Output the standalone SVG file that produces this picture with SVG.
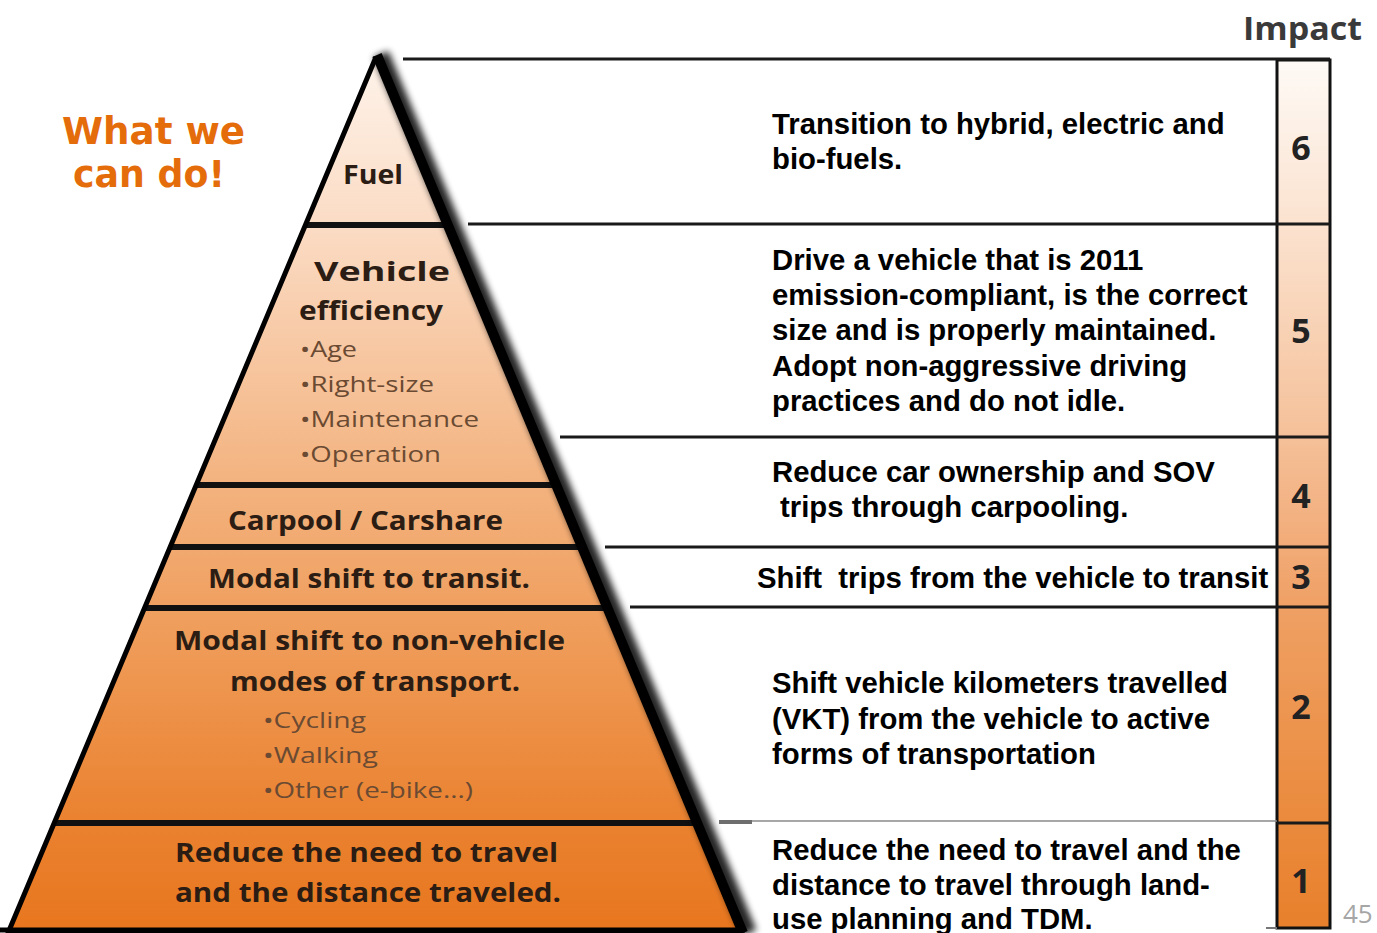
<svg xmlns="http://www.w3.org/2000/svg" width="1377" height="933" viewBox="0 0 1377 933">
  <defs>
    <linearGradient id="pyrFill" gradientUnits="userSpaceOnUse" x1="0" y1="57" x2="0" y2="933">
      <stop offset="0" stop-color="#fef3ea"/>
      <stop offset="0.19" stop-color="#fbdcc5"/>
      <stop offset="0.49" stop-color="#f3b27e"/>
      <stop offset="0.63" stop-color="#f0a060"/>
      <stop offset="0.87" stop-color="#ea8230"/>
      <stop offset="1" stop-color="#e8761e"/>
    </linearGradient>
    <linearGradient id="colFill" gradientUnits="userSpaceOnUse" x1="0" y1="60" x2="0" y2="928">
      <stop offset="0" stop-color="#fefaf6"/>
      <stop offset="0.19" stop-color="#fbe2cf"/>
      <stop offset="0.43" stop-color="#f5c19a"/>
      <stop offset="0.56" stop-color="#f2ab78"/>
      <stop offset="0.63" stop-color="#efa064"/>
      <stop offset="0.88" stop-color="#ea8a3c"/>
      <stop offset="1" stop-color="#e8802c"/>
    </linearGradient>
    <clipPath id="pyrClip">
      <polygon points="376,57 8,933 740,933"/>
    </clipPath>
    <filter id="soft" x="-20%" y="-5%" width="140%" height="110%">
      <feGaussianBlur stdDeviation="3.5"/>
    </filter>
    <style>
      .band { font-family: "Open Sans", "Liberation Sans", sans-serif; font-weight: bold; fill: #2b1d14; }
      .head { font-size: 27px; }
      .bullet { font-size: 21px; font-weight: normal; fill: #6a4a32; }
      .desc { font-family: "Liberation Sans", Arial, sans-serif; font-weight: bold; font-size: 29.3px; fill: #000; }
      .num { font-family: "Open Sans", "Liberation Sans", sans-serif; font-weight: bold; font-size: 34px; fill: #222; text-anchor: middle; }
      .sep { stroke: #111; stroke-width: 6; }
      .rule { stroke: #1a1a1a; stroke-width: 3; }
    </style>
  </defs>

  <rect width="1377" height="933" fill="#ffffff"/>

  <!-- heading on the left -->
  <g id="title" font-family="'DejaVu Sans', 'Liberation Sans', sans-serif" font-weight="bold" font-size="37" fill="#e46c0a">
    <text x="62" y="144" textLength="183" lengthAdjust="spacingAndGlyphs">What we</text>
    <text x="73" y="187" textLength="152" lengthAdjust="spacingAndGlyphs">can do!</text>
  </g>

  <!-- column heading -->
  <text id="impact-label" x="1243" y="40" font-family="'Open Sans', 'Liberation Sans', sans-serif" font-weight="bold" font-size="32" fill="#3a3a3a" textLength="119" lengthAdjust="spacingAndGlyphs">Impact</text>

  <!-- pyramid body -->
  <g id="pyramid">
    <polygon points="376,57 8,933 740,933" fill="url(#pyrFill)"/>
    <g clip-path="url(#pyrClip)">
      <line class="sep" x1="0" y1="225" x2="760" y2="225"/>
      <line class="sep" x1="0" y1="485" x2="760" y2="485"/>
      <line class="sep" x1="0" y1="547" x2="760" y2="547"/>
      <line class="sep" x1="0" y1="608" x2="760" y2="608"/>
      <line class="sep" x1="0" y1="823" x2="760" y2="823"/>
    </g>
    <!-- left and bottom edges -->
    <polyline points="376,57 8,933 742,933" fill="none" stroke="#000" stroke-width="5" stroke-linejoin="round"/>
    <line x1="0" y1="930" x2="745" y2="930" stroke="#000" stroke-width="5"/>
    <!-- heavy shaded right edge -->
    <line x1="381" y1="54" x2="749" y2="933" stroke="#000" stroke-width="16" filter="url(#soft)" opacity="0.85"/>
    <line x1="377" y1="55" x2="743" y2="933" stroke="#000" stroke-width="10"/>
  </g>

  <!-- pyramid levels -->
  <g id="level-fuel" class="band">
    <text class="head" x="343" y="184" textLength="60" lengthAdjust="spacingAndGlyphs">Fuel</text>
  </g>
  <g id="level-vehicle" class="band">
    <text class="head" x="314" y="281" textLength="136" lengthAdjust="spacingAndGlyphs">Vehicle</text>
    <text class="head" x="299" y="320" textLength="144" lengthAdjust="spacingAndGlyphs">efficiency</text>
    <text class="bullet" x="300" y="357" textLength="57" lengthAdjust="spacingAndGlyphs">•Age</text>
    <text class="bullet" x="300" y="392" textLength="134" lengthAdjust="spacingAndGlyphs">•Right-size</text>
    <text class="bullet" x="300" y="427" textLength="179" lengthAdjust="spacingAndGlyphs">•Maintenance</text>
    <text class="bullet" x="300" y="462" textLength="141" lengthAdjust="spacingAndGlyphs">•Operation</text>
  </g>
  <g id="level-carpool" class="band">
    <text class="head" x="228" y="530" textLength="275" lengthAdjust="spacingAndGlyphs">Carpool / Carshare</text>
  </g>
  <g id="level-transit" class="band">
    <text class="head" x="208" y="588" textLength="322" lengthAdjust="spacingAndGlyphs">Modal shift to transit.</text>
  </g>
  <g id="level-active" class="band">
    <text class="head" x="174" y="650" textLength="391" lengthAdjust="spacingAndGlyphs">Modal shift to non-vehicle</text>
    <text class="head" x="230" y="691" textLength="290" lengthAdjust="spacingAndGlyphs">modes of transport.</text>
    <text class="bullet" x="263" y="728" textLength="103" lengthAdjust="spacingAndGlyphs">•Cycling</text>
    <text class="bullet" x="263" y="763" textLength="115" lengthAdjust="spacingAndGlyphs">•Walking</text>
    <text class="bullet" x="263" y="798" textLength="210" lengthAdjust="spacingAndGlyphs">•Other (e-bike...)</text>
  </g>
  <g id="level-reduce" class="band">
    <text class="head" x="175" y="862" textLength="383" lengthAdjust="spacingAndGlyphs">Reduce the need to travel</text>
    <text class="head" x="175" y="902" textLength="386" lengthAdjust="spacingAndGlyphs">and the distance traveled.</text>
  </g>

  <!-- impact column -->
  <g id="impact-column">
    <rect x="1277" y="60" width="53" height="868" fill="url(#colFill)" stroke="#111" stroke-width="3"/>
    <line class="rule" x1="1277" y1="224" x2="1330" y2="224"/>
    <line class="rule" x1="1277" y1="437" x2="1330" y2="437"/>
    <line class="rule" x1="1277" y1="547" x2="1330" y2="547"/>
    <line class="rule" x1="1277" y1="607" x2="1330" y2="607"/>
    <line class="rule" x1="1277" y1="823" x2="1330" y2="823"/>
    <text class="num" x="1301" y="160">6</text>
    <text class="num" x="1301" y="343">5</text>
    <text class="num" x="1301" y="508">4</text>
    <text class="num" x="1301" y="589">3</text>
    <text class="num" x="1301" y="719">2</text>
    <text class="num" x="1301" y="893">1</text>
  </g>

  <!-- row rules between the pyramid and the column -->
  <g id="connectors">
    <line class="rule" x1="403" y1="59" x2="1330" y2="59"/>
    <line class="rule" x1="468" y1="224" x2="1277" y2="224"/>
    <line class="rule" x1="560" y1="437" x2="1277" y2="437"/>
    <line class="rule" x1="605" y1="547" x2="1277" y2="547"/>
    <line class="rule" x1="630" y1="607" x2="1277" y2="607"/>
    <line x1="719" y1="822" x2="752" y2="822" stroke="#6e6e6e" stroke-width="4"/>
    <line x1="752" y1="821" x2="1277" y2="821" stroke="#8a8a8a" stroke-width="1.5"/>
    <line x1="1266" y1="928" x2="1277" y2="928" stroke="#777" stroke-width="2"/>
  </g>

  <!-- descriptions -->
  <g id="desc-6" class="desc">
    <text x="772" y="134">Transition to hybrid, electric and</text>
    <text x="772" y="169">bio-fuels.</text>
  </g>
  <g id="desc-5" class="desc">
    <text x="772" y="270">Drive a vehicle that is 2011</text>
    <text x="772" y="305">emission-compliant, is the correct</text>
    <text x="772" y="340">size and is properly maintained.</text>
    <text x="772" y="376">Adopt non-aggressive driving</text>
    <text x="772" y="411">practices and do not idle.</text>
  </g>
  <g id="desc-4" class="desc">
    <text x="772" y="482">Reduce car ownership and SOV</text>
    <text x="780" y="517">trips through carpooling.</text>
  </g>
  <g id="desc-3" class="desc">
    <text x="757" y="588" xml:space="preserve">Shift  trips from the vehicle to transit</text>
  </g>
  <g id="desc-2" class="desc">
    <text x="772" y="693">Shift vehicle kilometers travelled</text>
    <text x="772" y="729">(VKT) from the vehicle to active</text>
    <text x="772" y="764">forms of transportation</text>
  </g>
  <g id="desc-1" class="desc">
    <text x="772" y="860">Reduce the need to travel and the</text>
    <text x="772" y="895">distance to travel through land-</text>
    <text x="772" y="929">use planning and TDM.</text>
  </g>

  <!-- page number -->
  <text id="page-number" x="1343" y="923" font-family="'Open Sans', 'Liberation Sans', sans-serif" font-size="26" fill="#a6a6a6">45</text>
</svg>
